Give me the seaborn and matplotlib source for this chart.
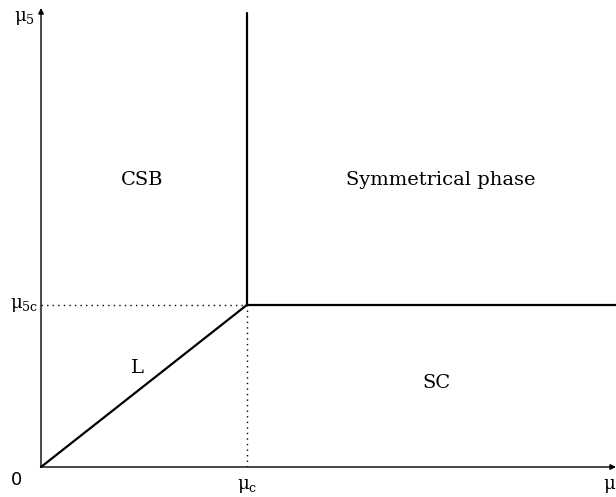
import matplotlib
matplotlib.use("Agg")
import matplotlib.pyplot as plt
import seaborn as sns
import pandas as pd

sns.set_style("white")
plt.rcParams['font.family'] = ['DejaVu Serif']
plt.rcParams['mathtext.fontset'] = 'dejavuserif'
plt.rcParams['text.color'] = 'black'

# critical point (mu_c, mu_5c) in units of itself
mu_c = 1.0
mu5c = 1.0
x_max = 2.79
y_max = 2.83
y_top_line = 2.80

# phase boundaries
line_L_x = [0.0, mu_c]
line_L_y = [0.0, mu5c]
line_v_x = [mu_c, mu_c]
line_v_y = [mu5c, y_top_line]
line_h_x = [mu_c, x_max]
line_h_y = [mu5c, mu5c]

region_names = ["CSB", "Symmetrical phase", "L", "SC"]
region_x = [0.49, 1.94, 0.466, 1.92]
region_y = [1.77, 1.77, 0.61, 0.52]

fig = plt.figure(figsize=(6.16, 4.97), dpi=100)
ax = fig.add_axes([41/616, 30/497, 575/616, 459/497])
ax.set_xlim(0, x_max)
ax.set_ylim(0, y_max)
for s in ax.spines.values():
    s.set_visible(False)
ax.set_xticks([])
ax.set_yticks([])

for xs, ys in [(line_L_x, line_L_y), (line_v_x, line_v_y), (line_h_x, line_h_y)]:
    df = pd.DataFrame({"x": xs, "y": ys})
    sns.lineplot(data=df, x="x", y="y", ax=ax, color="black", lw=1.6,
                 sort=False, estimator=None, clip_on=False)
ax.set_xlabel("")
ax.set_ylabel("")

# dotted guides
ax.plot([0, mu_c], [mu5c, mu5c], ls=(0, (1, 3)), color="black", lw=1.0)
ax.plot([mu_c, mu_c], [0, mu5c], ls=(0, (1, 3)), color="black", lw=1.0)

# axes with arrows
ax.annotate("", xy=(x_max, 0), xytext=(0, 0),
            arrowprops=dict(arrowstyle="-|>", color="black", lw=1.0,
                            mutation_scale=8, shrinkA=0, shrinkB=0),
            annotation_clip=False)
ax.annotate("", xy=(0, y_max), xytext=(0, 0),
            arrowprops=dict(arrowstyle="-|>", color="black", lw=1.0,
                            mutation_scale=8, shrinkA=0, shrinkB=0),
            annotation_clip=False)

for name, xx, yy in zip(region_names, region_x, region_y):
    ax.text(xx, yy, name, ha="center", va="center", fontsize=14, color="black")

# axis labels
ax.text(-0.03, y_max - 0.06, r"$\mathrm{\mu}_\mathrm{5}$", ha="right", va="center", fontsize=13)
ax.text(-0.015, mu5c, r"$\mathrm{\mu}_\mathrm{5c}$", ha="right", va="center", fontsize=13)
ax.text(-0.12, -0.08, "0", ha="center", va="center", fontsize=13, family="DejaVu Sans")
ax.text(mu_c, -0.12, r"$\mathrm{\mu}_\mathrm{c}$", ha="center", va="center", fontsize=13)
ax.text(x_max, -0.12, r"$\mathrm{\mu}$", ha="right", va="center", fontsize=13)

fig.savefig("out.png", dpi=100)
